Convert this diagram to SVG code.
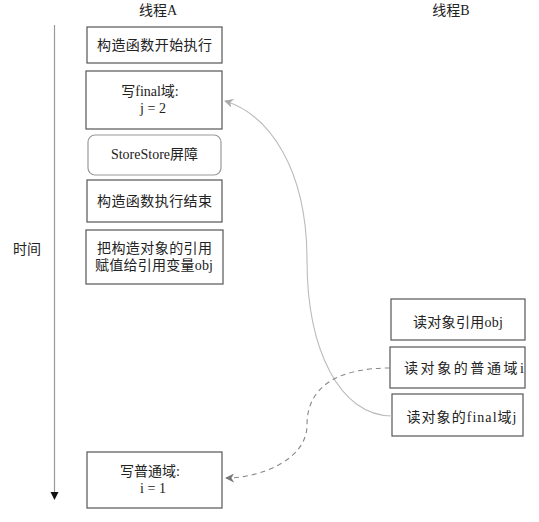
<svg xmlns="http://www.w3.org/2000/svg" width="539" height="522" viewBox="0 0 539 522">
<style>
text{font-family:"Liberation Serif","Noto Sans CJK SC",serif;font-size:14px;fill:#222;text-anchor:middle}
.box{fill:#fff;stroke:#555;stroke-width:1.2}
.rbox{fill:#fff;stroke:#999;stroke-width:1.2}
.solid{fill:none;stroke:#bbb;stroke-width:1.1}
.dash{fill:none;stroke:#888;stroke-width:1.1;stroke-dasharray:5 4}
</style>
<defs>
<marker id="arr" viewBox="0 0 10 10" refX="9" refY="5" markerWidth="9" markerHeight="9" markerUnits="userSpaceOnUse" orient="auto">
<path d="M0,0 L10,5 L0,10 L3,5 Z" fill="#aaa"/>
</marker>
<marker id="arrd" viewBox="0 0 10 10" refX="9" refY="5" markerWidth="9" markerHeight="9" markerUnits="userSpaceOnUse" orient="auto">
<path d="M0,0 L10,5 L0,10 L3,5 Z" fill="#777"/>
</marker>
</defs>
<rect width="539" height="522" fill="#fff"/>
<g id="labels">
<text x="158" y="15">线程A</text>
<text x="451" y="15">线程B</text>
<text x="27" y="254">时间</text>
</g>
<g id="timeline">
<line x1="54.5" y1="25" x2="54.5" y2="493" stroke="#999" stroke-width="1.2"/>
<path d="M50.5,492 L58.5,492 L54.5,500 Z" fill="#111"/>
</g>
<g id="a1"><rect class="box" x="87" y="27" width="135" height="36"/><text x="154.5" y="50" textLength="115">构造函数开始执行</text></g>
<g id="a2"><rect class="box" x="86" y="71" width="136" height="58"/><text x="150" y="96">写final域:</text><text x="153" y="113">j = 2</text></g>
<g id="a3"><rect class="rbox" x="88" y="135" width="133" height="40" rx="7"/><text x="154.5" y="159">StoreStore屏障</text></g>
<g id="a4"><rect class="box" x="87" y="180" width="135" height="42"/><text x="154.5" y="206" textLength="115">构造函数执行结束</text></g>
<g id="a5"><rect class="box" x="86" y="230" width="137" height="54"/><text x="154.5" y="253" textLength="115">把构造对象的引用</text><text x="154" y="270" textLength="118">赋值给引用变量obj</text></g>
<g id="a6"><rect class="box" x="87" y="452" width="135" height="56"/><text x="150" y="476">写普通域:</text><text x="153" y="493">i = 1</text></g>
<g id="b1"><rect class="box" x="391" y="299" width="134" height="41"/><text x="458" y="327" textLength="90">读对象引用obj</text></g>
<g id="b2"><rect class="box" x="390" y="347" width="135" height="41"/><text x="464" y="373" textLength="120">读对象的普通域i</text></g>
<g id="b3"><rect class="box" x="392" y="394" width="131" height="42"/><text x="461.5" y="422" textLength="110">读对象的final域j</text></g>
<g id="connectors">
<path class="solid" d="M392,416 C340,416 307,350 307,260 C307,170 270,115 225,101" marker-end="url(#arr)"/>
<path class="dash" d="M390,368 C340,368 307,385 307,425 C307,460 260,478 226,478" marker-end="url(#arrd)"/>
</g>
</svg>
